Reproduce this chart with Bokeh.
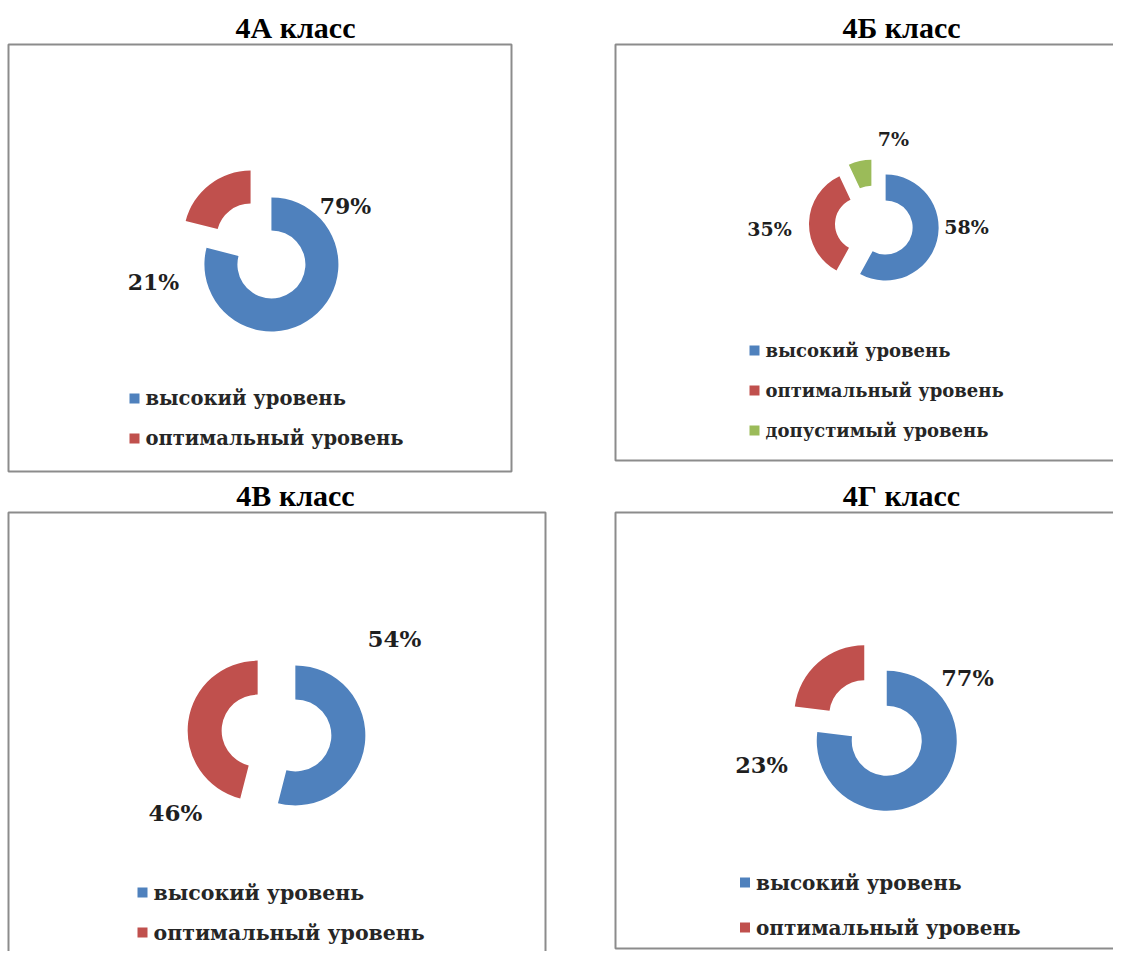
import math
from bokeh.plotting import figure
from bokeh.models import Range1d, ColumnDataSource
from bokeh.core.properties import value
from bokeh.embed import file_html
from bokeh.resources import INLINE

# ---------------- data ----------------
classes = ["4А класс", "4Б класс", "4В класс", "4Г класс"]
levels = ["высокий уровень", "оптимальный уровень", "допустимый уровень"]
level_colors = ["#4F81BD", "#C0504D", "#9BBB59"]
share_4a = [79, 21]
share_4b = [58, 35, 7]
share_4c = [54, 46]
share_4d = [77, 23]

# ---------------- layout (screen pixels) ----------------
W, H = 1113, 951
SH = 959  # data y = SH - screen y

panels = [
    dict(title=classes[0], values=share_4a, box=(8, 511, 44, 471), title_xy=(295, 27), title_size=30,
         center=(260.5, 250.5), R=67, r=34, explode=17,
         label_off=[(84.5, -45.5), (-107.5, 30.5)], label_size=22,
         leg_x=134, leg_y=[398, 438], leg_size=19.5),
    dict(title=classes[1], values=share_4b, box=(615, 1130, 44, 460), title_xy=(901, 27), title_size=30,
         center=(873.5, 224), R=53, r=27, explode=12,
         label_off=[(92.5, 2), (-104.5, 4), (19.5, -86)], label_size=19,
         leg_x=754, leg_y=[350, 390, 430], leg_size=18),
    dict(title=classes[2], values=share_4c, box=(8, 545, 512, 975), title_xy=(295, 495), title_size=30,
         center=(276, 732.5), R=70, r=36, explode=19,
         label_off=[(118, -94.5), (-101, 79.5)], label_size=23,
         leg_x=142, leg_y=[892, 932], leg_size=20.5),
    dict(title=classes[3], values=share_4d, box=(615, 1130, 512, 948), title_xy=(901, 495), title_size=30,
         center=(875, 727.5), R=70, r=35, explode=17,
         label_off=[(92, -50.5), (-114, 36.5)], label_size=22.5,
         leg_x=744.5, leg_y=[882, 927], leg_size=20),
]

p = figure(width=W, height=H, x_range=Range1d(0, W), y_range=Range1d(SH - H, SH),
           output_backend="svg", toolbar_location=None, min_border=0)
p.axis.visible = False
p.grid.visible = False
p.outline_line_color = None
p.background_fill_color = "white"
p.border_fill_color = "white"

for pn in panels:
    l, r_, t, b = pn["box"]
    p.quad(left=[l], right=[r_], top=[SH - t], bottom=[SH - b], fill_color=None,
           line_color="#8c8c8c", line_width=2)
    tx, ty = pn["title_xy"]
    p.text(x=[tx], y=[SH - ty], text=[pn["title"]], text_font=value("Liberation Serif"),
           text_font_style="bold", text_font_size=value(f"{pn['title_size']}px"),
           text_align="center", text_baseline="middle", text_color="black")

    vals = pn["values"]
    total = float(sum(vals))
    cx0, cy0 = pn["center"]
    d = pn["explode"]
    xs, ys, starts, ends, cols, names, lx, ly, ltxt = [], [], [], [], [], [], [], [], []
    cum = 0.0
    for i, v in enumerate(vals):
        t1 = cum / total * 2 * math.pi
        t2 = (cum + v) / total * 2 * math.pi
        tm = (t1 + t2) / 2
        cum += v
        sx = cx0 + d * math.sin(tm)
        sy = cy0 - d * math.cos(tm)
        xs.append(sx)
        ys.append(SH - sy)
        starts.append(math.pi / 2 - t2)
        ends.append(math.pi / 2 - t1)
        cols.append(level_colors[i])
        names.append(levels[i])
        ox, oy = pn["label_off"][i]
        lx.append(cx0 + ox)
        ly.append(SH - (cy0 + oy))
        ltxt.append(f"{v}%")
    src = ColumnDataSource(dict(x=xs, y=ys, start=starts, end=ends, color=cols, name=names))
    p.annular_wedge(x="x", y="y", inner_radius=pn["r"], outer_radius=pn["R"],
                    start_angle="start", end_angle="end", direction="anticlock",
                    fill_color="color", line_color=None, source=src)
    p.text(x=lx, y=ly, text=ltxt, text_font=value("DejaVu Serif"), text_font_style="bold",
           text_font_size=value(f"{pn['label_size']}px"), text_align="center",
           text_baseline="middle", text_color="#1f1f1f")

    # legend
    n = len(vals)
    lgx = [pn["leg_x"]] * n
    lgy = [SH - y for y in pn["leg_y"]]
    p.rect(x=lgx, y=lgy, width=10, height=10, width_units="screen", height_units="screen",
           fill_color=level_colors[:n], line_color=None)
    p.text(x=[pn["leg_x"] + 11] * n, y=lgy, text=levels[:n], text_font=value("DejaVu Serif"),
           text_font_style="bold", text_font_size=value(f"{pn['leg_size']}px"),
           text_align="left", text_baseline="middle", text_color="#262626")

open("out.html", "w").write(file_html(p, INLINE))
